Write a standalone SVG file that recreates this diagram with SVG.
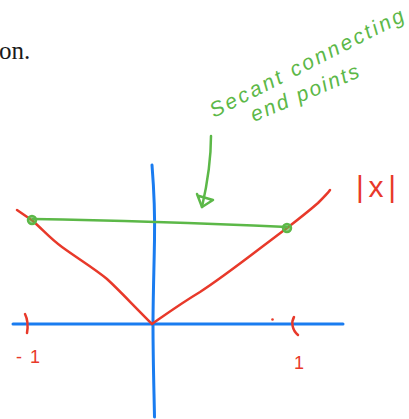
<svg xmlns="http://www.w3.org/2000/svg" width="409" height="419" viewBox="0 0 409 419">
<style>
.red{fill:none;stroke:#e8392a;stroke-width:2.5;stroke-linecap:round;stroke-linejoin:round}
.blue{fill:none;stroke:#1a7cf0;stroke-width:3;stroke-linecap:round;stroke-linejoin:round}
.green{fill:none;stroke:#5cb848;stroke-width:2.5;stroke-linecap:round;stroke-linejoin:round}
.gt{fill:#5cb848;font-family:"Liberation Sans",sans-serif;font-style:italic}
.rt{fill:#e8392a;font-family:"Liberation Sans",sans-serif}
</style>
<rect width="409" height="419" fill="#ffffff"/>
<text x="-1" y="59" font-family="Liberation Serif,serif" font-size="25" fill="#1a1a1a">on.</text>
<g id="axes">
<path class="blue" d="M152,165 C154,190 155,215 154.5,240 C154,270 153,300 153,324 C153,360 154,390 154.5,417"/>
<path class="blue" d="M13,324 C100,324 200,325 343,324"/>
</g>
<g id="curve">
<path class="red" d="M17,210 L33,221 C45,232 52,240 62,247 C80,260 95,269 107,279 C118,289 130,302 152,324 C165,315 180,304 200,292 C225,276 255,252 287,228 C300,218 310,210 318,203 C324,197 328,193 330,190"/>
<path class="red" d="M25,314 C28,320 28,327 27,333"/>
<path class="red" d="M294,317 C291,322 292,330 298,335"/>
<circle cx="272.5" cy="319.5" r="1.3" fill="#e8392a"/>
</g>
<g id="secant">
<path class="green" d="M33,219 C100,220 200,223 287,227"/>
<circle cx="32" cy="220" r="4" fill="#5cb848" fill-opacity="0.6" stroke="#5cb848" stroke-width="2.5"/>
<circle cx="287" cy="228" r="4" fill="#5cb848" fill-opacity="0.6" stroke="#5cb848" stroke-width="2.5"/>
</g>
<g id="connectors">
<path class="green" d="M211,136 C211,160 207,185 202,207"/>
<path class="green" d="M197,194 L202,207 L213,200 L199,196"/>
</g>
<g id="labels">
<text class="gt" x="214" y="118" font-size="21" transform="rotate(-27 214 118)" textLength="215" lengthAdjust="spacing">Secant connecting</text>
<text class="gt" x="254" y="122" font-size="21" transform="rotate(-23 254 122)" textLength="116" lengthAdjust="spacing">end points</text>
<text class="rt" x="356" y="197" font-size="30" textLength="40" lengthAdjust="spacing">|x|</text>
<text class="rt" x="16" y="363" font-size="18" textLength="24" lengthAdjust="spacing">-1</text>
<text class="rt" x="294" y="369" font-size="18">1</text>
</g>
</svg>
